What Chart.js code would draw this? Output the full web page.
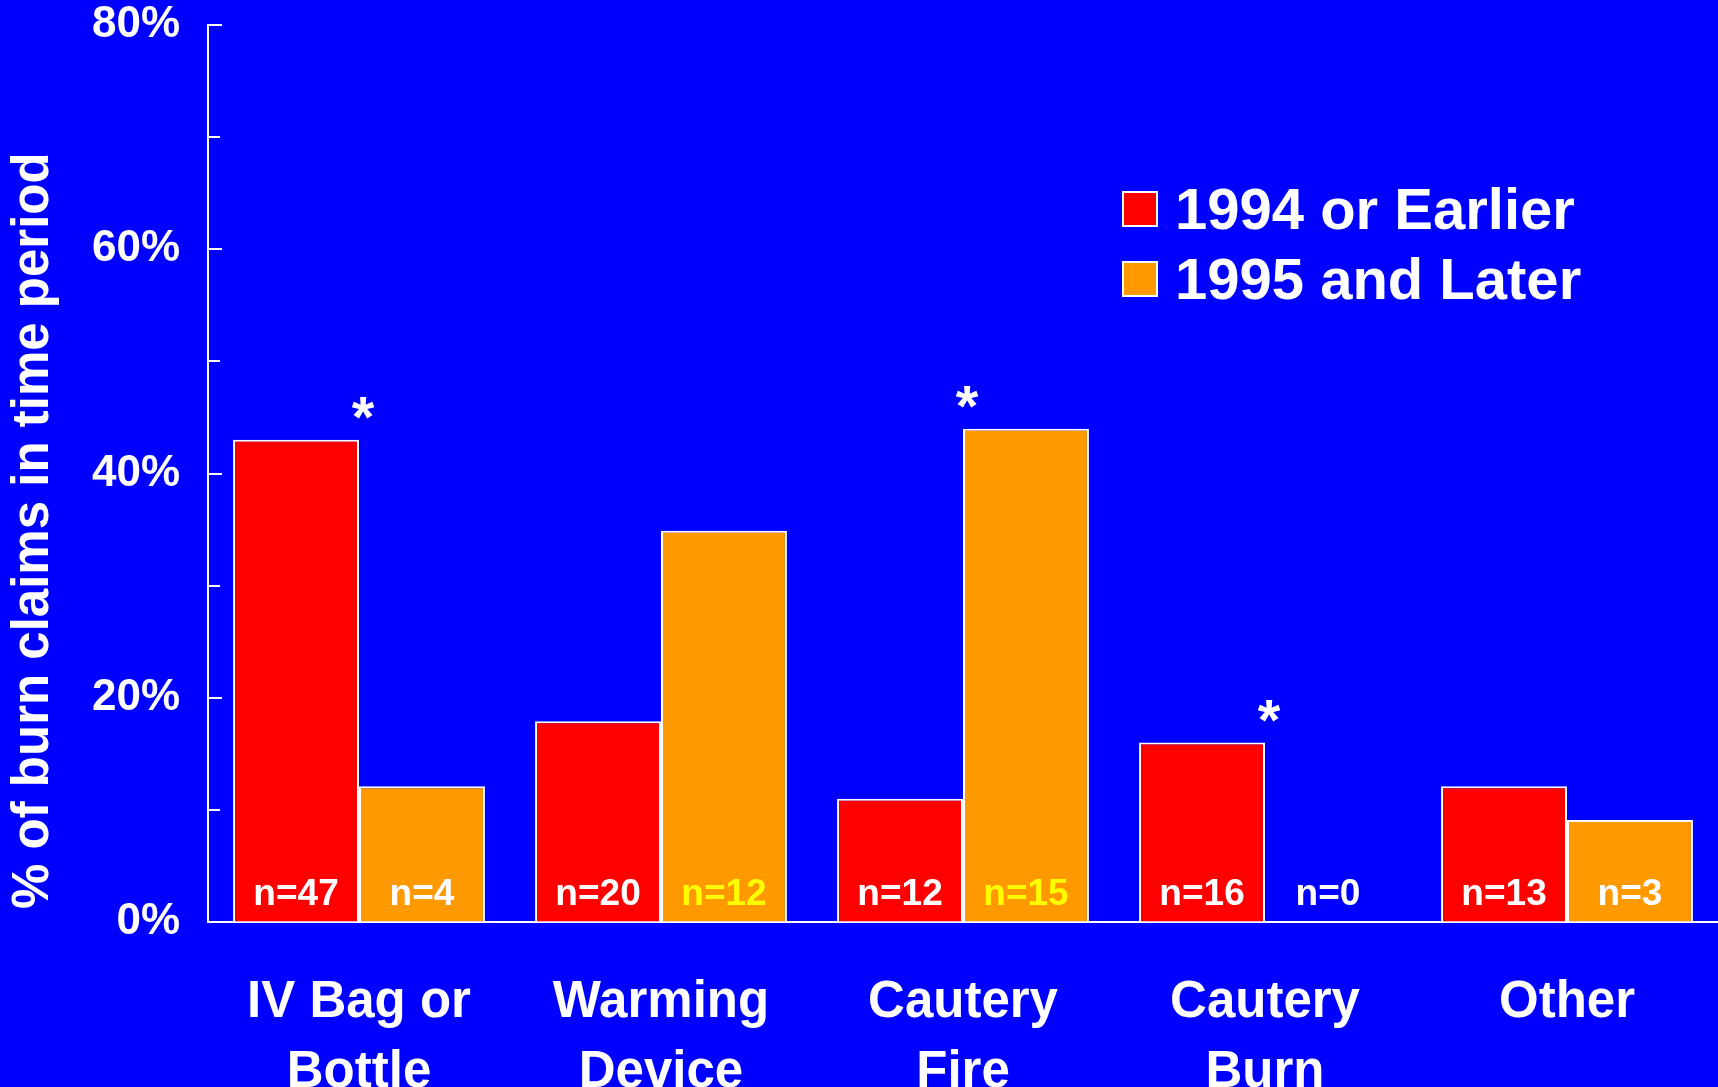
<!DOCTYPE html>
<html>
<head>
<meta charset="utf-8">
<script src="https://cdn.jsdelivr.net/npm/chart.js@4"></script>
<style>
  html, body { margin: 0; padding: 0; background: #0000FF; }
  #wrap { width: 1718px; height: 1087px; }
</style>
</head>
<body>
<div id="wrap"><canvas id="c" width="1718" height="1087"></canvas></div>
<script>
// Burn claims by source, split by time period
const categories = [['IV Bag or', 'Bottle'], ['Warming', 'Device'], ['Cautery', 'Fire'], ['Cautery', 'Burn'], 'Other'];
const seriesNames = ['1994 or Earlier', '1995 and Later'];
const earlierPct = [43, 17.9, 11, 16, 12.1];
const laterPct = [12.1, 34.9, 44, 0, 9.1];
const earlierN = [47, 20, 12, 16, 13];
const laterN = [4, 12, 15, 0, 3];
const significant = [true, false, true, true, false];
const yTicks = [0, 10, 20, 30, 40, 50, 60, 70, 80];
const yAxisTitle = '% of burn claims in time period';

const FONT = "'Liberation Sans', Arial, Helvetica, sans-serif";
const WHITE = '#FFFFFF';
const RED = '#FF0000';
const ORANGE = '#FF9900';
const YELLOW = '#FFFF00';
const laterLabelColors = [WHITE, YELLOW, YELLOW, WHITE, WHITE];

// inward tick marks on the value axis (long at labelled values, short between)
const inwardTicks = {
  id: 'inwardTicks',
  afterDraw(chart) {
    const y = chart.scales.y;
    const ctx = chart.ctx;
    ctx.save();
    ctx.strokeStyle = WHITE;
    ctx.lineWidth = 2;
    y.ticks.forEach(t => {
      const py = Math.round(y.getPixelForValue(t.value));
      const len = t.value % 20 === 0 ? 14 : 12;
      ctx.beginPath();
      ctx.moveTo(y.right, py);
      ctx.lineTo(y.right + len, py);
      ctx.stroke();
    });
    ctx.restore();
  }
};

// vertical axis title, raised slightly above the plot's baseline
const valueAxisTitle = {
  id: 'valueAxisTitle',
  afterDraw(chart) {
    const y = chart.scales.y;
    const ctx = chart.ctx;
    ctx.save();
    ctx.font = 'bold 51px ' + FONT;
    ctx.fillStyle = WHITE;
    ctx.textAlign = 'left';
    ctx.textBaseline = 'middle';
    ctx.translate(34, y.bottom - 13);
    ctx.rotate(-Math.PI / 2);
    ctx.fillText(yAxisTitle, 0, 0);
    ctx.restore();
  }
};

// sample-size labels at the foot of each bar, and significance asterisks
const barNotes = {
  id: 'barNotes',
  afterDatasetsDraw(chart) {
    const ctx = chart.ctx;
    const y = chart.scales.y;
    const x = chart.scales.x;
    const base = y.getPixelForValue(0);
    ctx.save();
    ctx.font = 'bold 37px ' + FONT;
    ctx.textAlign = 'center';
    ctx.textBaseline = 'alphabetic';
    const counts = [earlierN, laterN];
    chart.data.datasets.forEach((ds, di) => {
      const meta = chart.getDatasetMeta(di);
      meta.data.forEach((bar, i) => {
        ctx.fillStyle = di === 1 ? laterLabelColors[i] : WHITE;
        ctx.fillText('n=' + counts[di][i], bar.x, base - 17);
      });
    });
    ctx.font = 'bold 58px ' + FONT;
    ctx.fillStyle = WHITE;
    const m = ctx.measureText('*');
    significant.forEach((s, i) => {
      if (!s) return;
      const top = y.getPixelForValue(Math.max(earlierPct[i], laterPct[i]));
      const cx = x.getPixelForValue(i) + 4;
      ctx.fillText('*', cx, top - 21 - m.actualBoundingBoxDescent);
    });
    ctx.restore();
  }
};

// series key in the upper right of the plot
const seriesKey = {
  id: 'seriesKey',
  afterDraw(chart) {
    const ctx = chart.ctx;
    ctx.save();
    ctx.font = 'bold 58px ' + FONT;
    ctx.textAlign = 'left';
    ctx.textBaseline = 'alphabetic';
    chart.data.datasets.forEach((ds, i) => {
      const bx = 1123, by = 192 + i * 70, size = 34;
      ctx.fillStyle = ds.backgroundColor;
      ctx.fillRect(bx, by, size, size);
      ctx.strokeStyle = WHITE;
      ctx.lineWidth = 2;
      ctx.strokeRect(bx, by, size, size);
      ctx.fillStyle = WHITE;
      ctx.fillText(ds.label, 1175, by + size / 2 + 20);
    });
    ctx.restore();
  }
};

new Chart(document.getElementById('c'), {
  type: 'bar',
  data: {
    labels: categories,
    datasets: [
      { label: seriesNames[0], data: earlierPct, backgroundColor: RED, borderColor: WHITE, borderWidth: 2 },
      { label: seriesNames[1], data: laterPct, backgroundColor: ORANGE, borderColor: WHITE, borderWidth: 2 }
    ]
  },
  options: {
    responsive: false,
    animation: false,
    devicePixelRatio: 1,
    layout: { padding: { top: 25, left: 0, right: 0, bottom: 0 } },
    datasets: { bar: { categoryPercentage: 0.834, barPercentage: 1 } },
    plugins: {
      legend: { display: false },
      tooltip: { enabled: false }
    },
    scales: {
      x: {
        grid: { display: false },
        border: { display: true, color: WHITE, width: 2 },
        ticks: {
          color: WHITE,
          padding: 38,
          maxRotation: 0,
          autoSkip: false,
          font: { family: FONT, size: 51, weight: 'bold', lineHeight: 1.373 }
        },
        afterFit(scale) { scale.height = 165; }
      },
      y: {
        min: 0,
        max: 80,
        afterBuildTicks(scale) { scale.ticks = yTicks.map(v => ({ value: v })); },
        grid: { display: true, drawOnChartArea: false, drawTicks: false, color: 'rgba(0,0,0,0)' },
        border: { display: true, color: WHITE, width: 2 },
        ticks: {
          color: WHITE,
          padding: 28,
          font: { family: FONT, size: 44, weight: 'bold', lineHeight: 1.0 },
          callback: v => (v % 20 === 0 ? v + '%' : '')
        },
        afterFit(scale) {
          scale.width = 208;
          scale.paddingTop = 0;
          scale.paddingBottom = 0;
        }
      }
    }
  },
  plugins: [inwardTicks, valueAxisTitle, barNotes, seriesKey]
});
</script>
</body>
</html>
